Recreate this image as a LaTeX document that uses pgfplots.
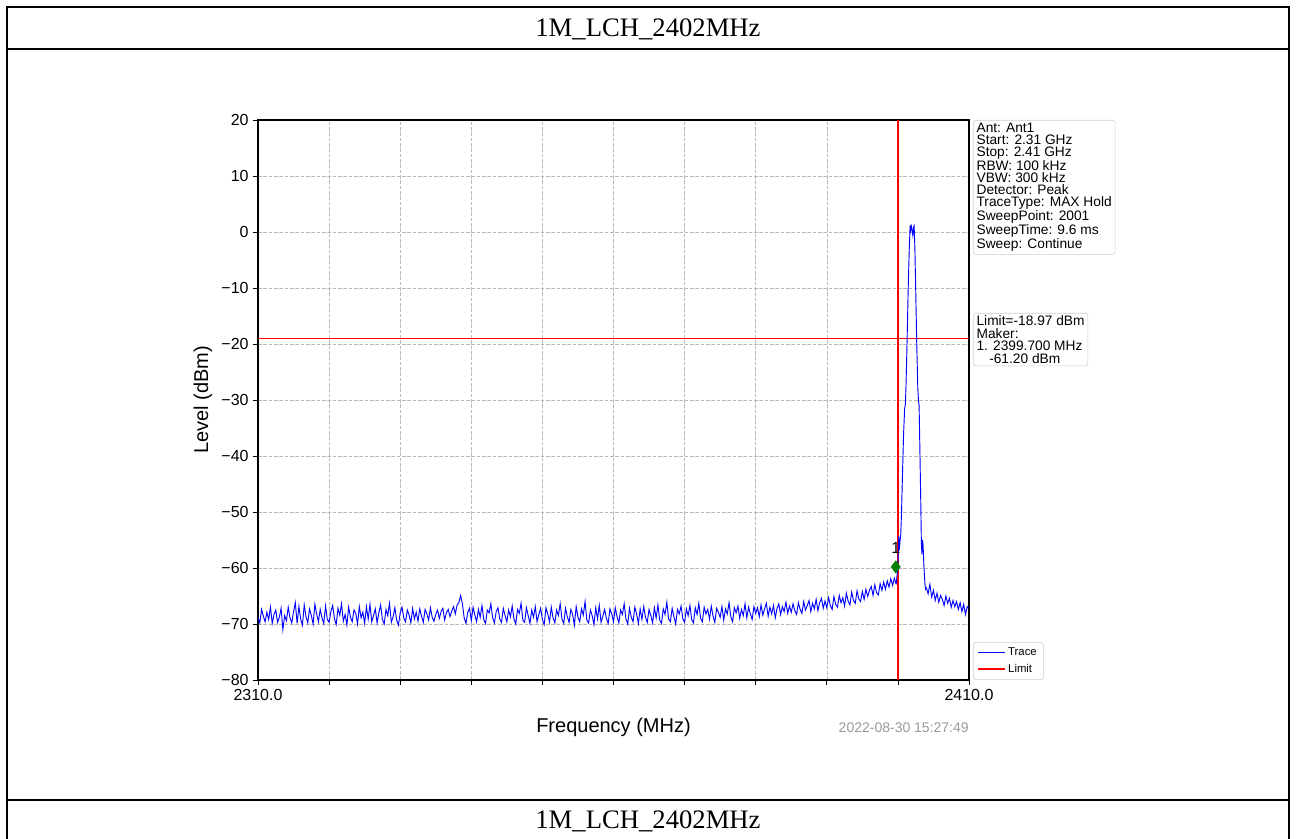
\documentclass[border=0pt]{standalone}
\usepackage{fontspec}
\setmainfont{Liberation Sans}
\newfontfamily\timesfont{Liberation Serif}
\usepackage{pgfplots}
\pgfplotsset{compat=1.18}
\usepackage{pgfplotstable}

% noise floor, 2310.00 ... 2399.75 MHz, step 0.25 MHz
\pgfplotstableread[header=false,row sep=\\]{
-68.9\\-69.8\\-67.4\\-68.6\\-69.6\\-67.9\\-69.2\\-67.0\\-69.9\\-68.3\\-67.5\\-69.7\\-68.8\\-67.2\\-71.0\\-68.5\\-69.4\\-67.0\\-68.9\\-69.8\\
-67.8\\-66.2\\-69.9\\-66.9\\-69.1\\-70.2\\-66.6\\-68.7\\-69.8\\-67.3\\-68.5\\-70.0\\-66.5\\-68.2\\-69.6\\-67.4\\-68.9\\-69.9\\-66.8\\-69.2\\
-69.7\\-67.8\\-66.7\\-69.0\\-70.1\\-67.2\\-68.4\\-66.4\\-69.5\\-68.3\\-70.2\\-67.0\\-68.8\\-69.6\\-67.5\\-68.1\\-70.0\\-66.9\\-68.9\\-67.9\\
-69.9\\-66.9\\-69.1\\-66.5\\-69.6\\-68.5\\-67.3\\-69.8\\-68.0\\-66.6\\-69.2\\-70.0\\-67.4\\-68.5\\-66.3\\-69.7\\-68.7\\-67.1\\-69.3\\-70.2\\
-68.0\\-67.0\\-68.9\\-69.6\\-67.5\\-68.4\\-69.8\\-67.2\\-69.1\\-67.9\\-69.5\\-67.3\\-68.6\\-69.7\\-67.4\\-68.2\\-69.3\\-67.1\\-68.8\\-69.5\\
-68.3\\-67.5\\-69.0\\-67.8\\-67.2\\-69.3\\-68.0\\-67.4\\-68.7\\-67.7\\-66.9\\-68.2\\-66.6\\-66.2\\-64.9\\-66.4\\-68.9\\-69.9\\-67.9\\-67.2\\
-69.4\\-67.0\\-68.4\\-69.6\\-67.4\\-68.8\\-66.7\\-69.2\\-69.9\\-67.5\\-68.0\\-66.4\\-68.9\\-69.8\\-67.8\\-67.1\\-69.1\\-69.7\\-67.2\\-68.5\\
-69.6\\-67.5\\-68.7\\-66.8\\-69.1\\-70.0\\-67.4\\-68.1\\-66.3\\-69.3\\-69.7\\-67.1\\-68.5\\-69.9\\-67.5\\-68.8\\-66.9\\-69.6\\-68.3\\-67.2\\
-69.2\\-70.1\\-67.1\\-68.2\\-69.6\\-67.0\\-68.9\\-69.8\\-67.5\\-68.5\\-66.4\\-69.1\\-69.9\\-67.2\\-68.7\\-69.7\\-67.4\\-68.3\\-70.2\\-66.9\\
-68.8\\-69.6\\-67.3\\-68.4\\-66.0\\-69.3\\-69.8\\-67.5\\-68.5\\-70.1\\-67.1\\-69.1\\-66.7\\-69.7\\-68.6\\-67.4\\-69.0\\-69.9\\-67.3\\-68.2\\
-69.6\\-67.1\\-68.7\\-69.8\\-67.5\\-68.3\\-66.4\\-69.1\\-70.0\\-67.2\\-68.8\\-69.6\\-67.0\\-68.2\\-69.9\\-67.3\\-69.2\\-66.9\\-68.8\\-69.7\\
-67.4\\-68.5\\-69.8\\-67.1\\-68.9\\-66.6\\-69.3\\-69.9\\-67.3\\-68.3\\-66.1\\-69.1\\-69.6\\-67.2\\-68.7\\-70.0\\-67.4\\-68.2\\-66.8\\-69.1\\
-69.7\\-67.3\\-68.5\\-66.7\\-69.2\\-69.8\\-67.1\\-68.3\\-66.3\\-69.0\\-69.6\\-67.0\\-68.2\\-67.4\\-69.1\\-66.8\\-68.6\\-69.7\\-67.2\\-67.9\\
-68.8\\-66.9\\-69.3\\-67.3\\-68.2\\-66.2\\-68.7\\-69.6\\-67.1\\-68.0\\-66.8\\-69.0\\-67.4\\-68.5\\-66.4\\-68.9\\-67.0\\-68.2\\-69.2\\-66.9\\
-68.1\\-67.1\\-68.7\\-66.6\\-68.4\\-67.3\\-66.3\\-68.6\\-67.0\\-68.2\\-66.7\\-68.9\\-67.2\\-66.4\\-68.3\\-66.9\\-67.8\\-66.1\\-68.1\\-66.8\\
-67.9\\-66.4\\-67.6\\-68.3\\-66.2\\-67.4\\-68.1\\-66.0\\-67.5\\-66.7\\-65.8\\-67.8\\-66.3\\-67.3\\-65.6\\-67.6\\-66.2\\-65.4\\-67.2\\-65.9\\
-67.1\\-65.3\\-66.7\\-67.4\\-65.1\\-66.5\\-67.0\\-64.9\\-66.2\\-65.3\\-66.8\\-64.5\\-65.9\\-66.6\\-64.3\\-65.8\\-66.3\\-64.1\\-65.5\\-66.0\\
-64.2\\-65.6\\-63.8\\-65.1\\-64.0\\-63.3\\-64.9\\-63.0\\-64.4\\-64.8\\-62.8\\-64.0\\-62.5\\-63.8\\-62.3\\-63.4\\-61.9\\-63.1\\-61.8\\-62.9\\
}\noisetbl

% carrier, 2399.75 ... 2404.0 MHz
\pgfplotstableread{
x y
2399.75 -62.9
2399.85 -61.8
2399.95 -60.2
2400.05 -57.5
2400.12 -54.3
2400.20 -56.8
2400.30 -55.2
2400.40 -54.0
2400.50 -50.5
2400.65 -43.0
2400.80 -36.0
2400.95 -31.5
2401.05 -30.8
2401.15 -27.0
2401.30 -19.0
2401.45 -10.0
2401.60 -3.0
2401.72 1.2
2401.80 0.3
2401.90 1.0
2402.00 0.2
2402.10 -0.6
2402.20 0.9
2402.28 1.1
2402.38 -2.5
2402.50 -10.0
2402.65 -20.0
2402.80 -28.0
2402.90 -30.3
2402.98 -30.8
2403.08 -38.0
2403.20 -47.0
2403.30 -55.5
2403.38 -57.5
2403.47 -55.0
2403.55 -56.2
2403.65 -59.5
2403.80 -62.8
2403.90 -63.8
2404.00 -63.5
}\carriertbl

% upper noise, 2404.00 ... 2410.00 MHz, step 0.25 MHz
\pgfplotstableread[header=false,row sep=\\]{
-63.5\\-64.6\\-62.9\\-65.2\\-64.0\\-65.8\\-64.5\\-66.1\\-64.9\\-65.6\\-66.7\\-65.0\\-66.3\\-65.4\\-67.0\\-65.8\\-66.9\\-66.0\\-67.4\\-66.2\\-67.8\\-66.5\\-68.3\\-66.9\\-67.2\\
}\tailtbl

\definecolor{mkgreen}{RGB}{0,128,0}
\definecolor{boxgray}{RGB}{204,204,204}
\definecolor{limred}{RGB}{255,0,0}

\begin{document}
\begin{tikzpicture}
\path[use as bounding box] (0,0) rectangle (972pt,629.25pt);
% table frame
\draw[line width=1.5pt] (5.25pt,0) -- (5.25pt,624pt) -- (966.75pt,624pt) -- (966.75pt,0);
\draw[line width=1.5pt] (5.25pt,592.5pt) -- (966.75pt,592.5pt);
\draw[line width=1.5pt] (5.25pt,29.25pt) -- (966.75pt,29.25pt);
\node[font=\timesfont\fontsize{20}{24}\selectfont] at (486pt,607pt) {1M\_LCH\_2402MHz};
\node[font=\timesfont\fontsize{20}{24}\selectfont] at (486pt,13pt) {1M\_LCH\_2402MHz};

\begin{axis}[
  at={(193.5pt,119.25pt)}, anchor=south west,
  scale only axis, width=533.25pt, height=420pt,
  xmin=2310, xmax=2410, ymin=-80, ymax=20,
  xtick={2310,2320,...,2410},
  xticklabels={2310.0,{},{},{},{},{},{},{},{},{},2410.0},
  ytick={-80,-70,...,20},
  yticklabels={−80,−70,−60,−50,−40,−30,−20,−10,0,10,20},
  tick pos=left, tick align=outside,
  major tick length=3.5pt,
  tick style={black, line width=0.6pt},
  tick label style={font=\fontsize{12}{14}\selectfont},
  axis line style={line width=0.8pt},
  grid=major,
  major grid style={gray!55, line width=0.45pt, dash pattern=on 2.8pt off 1.2pt},
  xlabel={Frequency (MHz)},
  ylabel={Level (dBm)},
  label style={font=\fontsize{15}{18}\selectfont},
  xlabel style={at={(axis description cs:0.5,-0.0839)}, anchor=center},
  ylabel style={at={(axis description cs:-0.0774,0.5)}, anchor=center},
  clip mode=individual,
  legend style={at={(1,0)}, anchor=south west, xshift=3pt,
    draw=boxgray, rounded corners=2pt, font=\fontsize{8.5}{9.5}\selectfont,
    inner xsep=3pt, inner ysep=2pt, row sep=1pt},
  legend cell align=left,
]
\addplot[draw=limred, line width=1.1pt, forget plot] coordinates {(2400,-80) (2400,20)};
\addplot[color=blue, line width=0.7pt,
  legend image code/.code={\draw[blue, line width=1.1pt] (0pt,0pt) -- (20pt,0pt);}]
  table[x expr=2310+\coordindex*0.25, y index=0] {\noisetbl};
\addlegendentry{Trace}
\addplot[color=limred, line width=0.75pt,
  legend image code/.code={\draw[limred, line width=1.2pt] (0pt,0pt) -- (20pt,0pt);}]
  coordinates {(2310,-18.97) (2410,-18.97)};
\addlegendentry{Limit}
\addplot[color=blue, line width=0.7pt, forget plot] table[x=x, y=y] {\carriertbl};
\addplot[color=blue, line width=0.7pt, forget plot] table[x expr=2404+\coordindex*0.25, y index=0] {\tailtbl};
\addplot[only marks, mark=diamond*, mark size=4.6pt, color=mkgreen, forget plot,
  nodes near coords={1},
  every node near coord/.append style={anchor=south, inner sep=0pt, yshift=9.5pt, text=black, font=\fontsize{12}{13}\selectfont}]
  coordinates {(2399.7,-59.8)};
\node[draw=boxgray, rounded corners=2pt, anchor=north west, align=left, inner xsep=2.5pt, inner ysep=2pt,
  font=\fontsize{10.3}{9.0}\selectfont] at ([xshift=3pt]rel axis cs:1,1)
  {Ant: Ant1\\Start: 2.31 GHz\\Stop: 2.41 GHz\\RBW: 100 kHz\\VBW: 300 kHz\\Detector: Peak\\TraceType: MAX Hold\\SweepPoint: 2001\\SweepTime: 9.6 ms\\Sweep: Continue};
\node[draw=boxgray, rounded corners=2pt, anchor=north west, align=left, inner xsep=2.5pt, inner ysep=2pt,
  font=\fontsize{10.3}{9.3}\selectfont] at ([xshift=3pt]rel axis cs:1,0.6554)
  {Limit=-18.97 dBm\\Maker:\\1. 2399.700 MHz\\\hspace*{9.5pt}-61.20 dBm};
\node[anchor=east, inner sep=0pt, text=gray!80, font=\fontsize{10.5}{12}\selectfont] at (axis description cs:1,-0.0857) {2022-08-30 15:27:49};
\end{axis}
\end{tikzpicture}
\end{document}
